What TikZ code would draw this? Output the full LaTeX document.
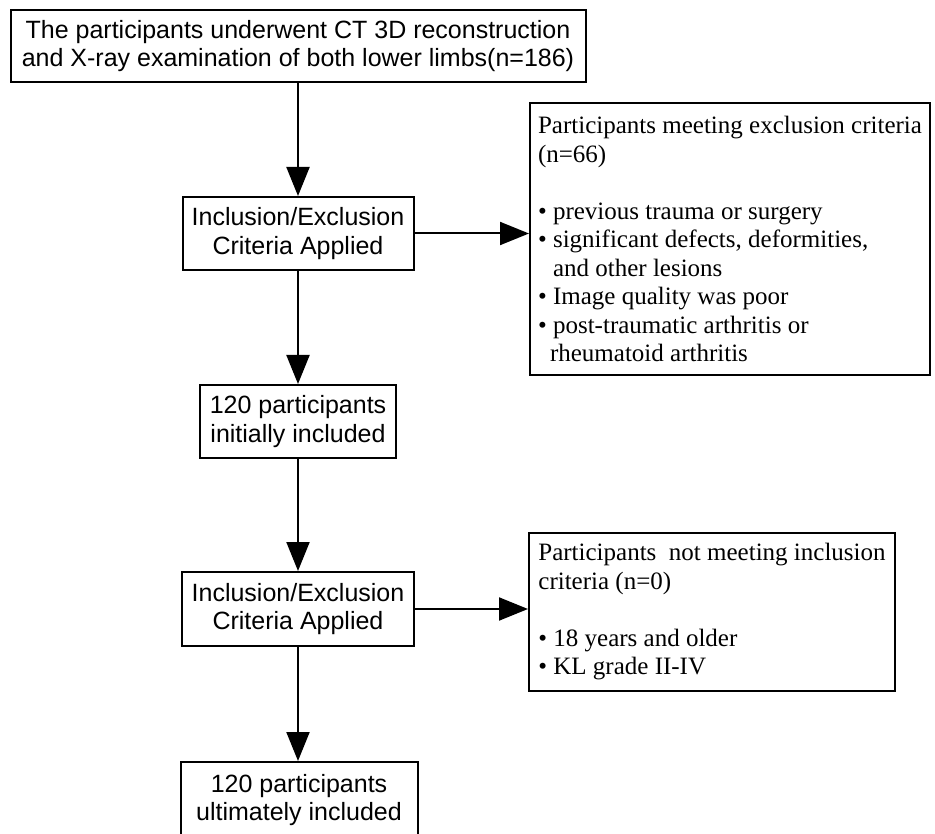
\documentclass[tikz,border=0pt]{standalone}
\usepackage{fontspec}
\setmainfont{Liberation Serif}
\setsansfont{Liberation Sans}
\usetikzlibrary{arrows.meta}

\begin{document}
\begin{tikzpicture}[x=1pt, y=-1pt,
    flowbox/.style={draw, line width=2pt, align=center, inner sep=0pt, font=\sffamily\fontsize{25}{28.5}\selectfont},
    listbox/.style={draw, line width=2pt, align=left, inner xsep=8pt, inner ysep=0pt, font=\fontsize{25}{28.5}\selectfont},
    arr/.style={-{Triangle[length=29pt, width=23pt]}, line width=2pt}]
    \useasboundingbox (0,0) rectangle (935,834);
    \clip (0,0) rectangle (935,834);

    \node[flowbox, minimum width=575pt, minimum height=72pt] (scan) at (298,46) {The participants underwent CT 3D reconstruction\\and X-ray examination of both lower limbs(n=186)};
    \node[flowbox, minimum width=231pt, minimum height=73pt] (crit1) at (298,233.5) {Inclusion/Exclusion\\Criteria Applied};
    \node[flowbox, minimum width=196pt, minimum height=73pt] (initial) at (298,421.5) {120 participants\\initially included};
    \node[flowbox, minimum width=232pt, minimum height=74pt] (crit2) at (298,609) {Inclusion/Exclusion\\Criteria Applied};
    \node[flowbox, minimum width=237pt, minimum height=76pt] (final) at (299,800) {120 participants\\ultimately included};

    \node[listbox, minimum width=400pt, minimum height=272pt] (excl) at (730,239) {Participants meeting exclusion criteria\\(n=66)\\[28.5pt]
        • previous trauma or surgery\\• significant defects, deformities,\\\hspace*{15pt}and other lesions\\
        • Image quality was poor\\• post-traumatic arthritis or\\\hspace*{12pt}rheumatoid arthritis};
    \node[listbox, minimum width=366pt, minimum height=158pt] (notinc) at (712,612) {Participants\ \ not meeting inclusion\\criteria (n=0)\\[28.5pt]
        • 18 years and older\\• KL grade II-IV};

    \draw[arr] (scan) -- (crit1);
    \draw[arr] (crit1) -- (initial);
    \draw[arr] (initial) -- (crit2);
    \draw[arr] (crit2) -- (crit2 |- final.north);
    \draw[arr] (crit1.east) -- (crit1.east -| excl.west);
    \draw[arr] (crit2.east) -- (crit2.east -| notinc.west);
\end{tikzpicture}
\end{document}
